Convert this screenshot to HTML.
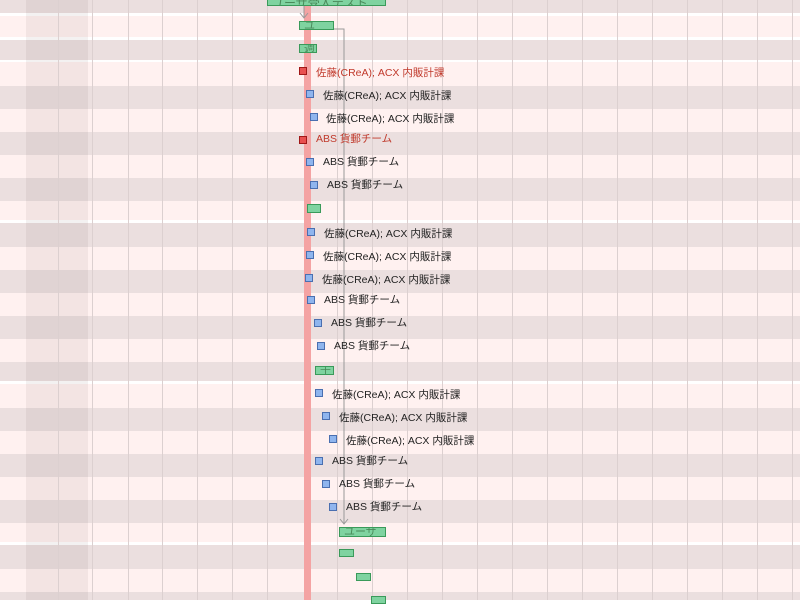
<!DOCTYPE html>
<html><head><meta charset="utf-8"><style>
body{margin:0;width:800px;height:600px;overflow:hidden;position:relative;background:#fff;font-family:"Liberation Sans","Noto Sans CJK JP",sans-serif}
.r{position:absolute;left:0;width:800px}
.d{background:#ebdfdf}.l{background:#fff1f0}
.v{position:absolute;top:0;height:600px;width:1px;background:#dcd0d0}
.sq{position:absolute;width:6px;height:6px;border:1px solid #4a6fb0;background:#8fb5ee}
.rd{border-color:#a01818;background:#e85050}
.t{position:absolute;font-size:10.5px;color:#222;line-height:13px;white-space:nowrap}
.red{color:#c0392b}
.b{position:absolute;background:#7fd3a0;border:1px solid #3a9a5a;box-sizing:border-box;font-size:11px;color:#4a8a5a;line-height:9px;overflow:hidden;white-space:nowrap}
</style></head><body>
<div class="r d" style="top:0;height:13px"></div>
<div class="r l" style="top:16px;height:21px"></div>
<div class="r d" style="top:40px;height:20px"></div>
<div class="r l" style="top:62px;height:24px"></div>
<div class="r d" style="top:86px;height:23px"></div>
<div class="r l" style="top:109px;height:23px"></div>
<div class="r d" style="top:132px;height:23px"></div>
<div class="r l" style="top:155px;height:23px"></div>
<div class="r d" style="top:178px;height:23px"></div>
<div class="r l" style="top:201px;height:19px"></div>
<div class="r d" style="top:223px;height:24px"></div>
<div class="r l" style="top:247px;height:23px"></div>
<div class="r d" style="top:270px;height:23px"></div>
<div class="r l" style="top:293px;height:23px"></div>
<div class="r d" style="top:316px;height:23px"></div>
<div class="r l" style="top:339px;height:23px"></div>
<div class="r d" style="top:362px;height:19px"></div>
<div class="r l" style="top:384px;height:24px"></div>
<div class="r d" style="top:408px;height:23px"></div>
<div class="r l" style="top:431px;height:23px"></div>
<div class="r d" style="top:454px;height:23px"></div>
<div class="r l" style="top:477px;height:23px"></div>
<div class="r d" style="top:500px;height:23px"></div>
<div class="r l" style="top:523px;height:19px"></div>
<div class="r d" style="top:545px;height:24px"></div>
<div class="r l" style="top:569px;height:23px"></div>
<div class="r d" style="top:592px;height:8px"></div>
<div style="position:absolute;left:26px;top:0;width:62px;height:600px;background:rgba(120,100,100,0.09)"></div>
<div class="v" style="left:58px"></div>
<div class="v" style="left:92px"></div><div class="v" style="left:128px"></div><div class="v" style="left:162px"></div><div class="v" style="left:197px"></div><div class="v" style="left:232px"></div><div class="v" style="left:267px"></div><div class="v" style="left:337px"></div><div class="v" style="left:372px"></div><div class="v" style="left:407px"></div><div class="v" style="left:442px"></div><div class="v" style="left:477px"></div><div class="v" style="left:512px"></div><div class="v" style="left:547px"></div><div class="v" style="left:582px"></div><div class="v" style="left:617px"></div><div class="v" style="left:652px"></div><div class="v" style="left:687px"></div><div class="v" style="left:722px"></div><div class="v" style="left:757px"></div><div class="v" style="left:792px"></div>
<div style="position:absolute;left:304px;top:0;width:7px;height:600px;background:#f4a3a3"></div>
<svg style="position:absolute;left:0;top:0" width="800" height="600">
<polyline points="304,6 304,18" fill="none" stroke="#999" stroke-width="1"/>
<polyline points="300,13 304,18 308,13" fill="none" stroke="#999"/>
<polyline points="334,29 344,29 344,524" fill="none" stroke="#999" stroke-width="1"/>
<polyline points="340,519 344,524 348,519" fill="none" stroke="#999"/>
</svg>
<div class="b" style="left:267px;top:-3px;width:119px;height:9px;padding-left:4px;line-height:11px;font-size:12px">ユーザ受入テスト</div>
<div class="b" style="left:299px;top:21px;width:35px;height:9px;padding-left:4px">ユ</div>
<div class="b" style="left:299px;top:44px;width:18px;height:9px;padding-left:4px">週</div>
<div class="b" style="left:307px;top:204px;width:14px;height:9px"></div>
<div class="b" style="left:315px;top:366px;width:19px;height:9px;padding-left:4px">千</div>
<div class="b" style="left:339px;top:527px;width:47px;height:10px;padding-left:4px">ユーザ</div>
<div class="b" style="left:339px;top:549px;width:15px;height:8px"></div>
<div class="b" style="left:356px;top:573px;width:15px;height:8px"></div>
<div class="b" style="left:371px;top:596px;width:15px;height:8px"></div>
<div class="sq rd" style="left:299px;top:67px"></div><div class="t red" style="left:316px;top:67px">佐藤(CReA); ACX 内販計課</div>
<div class="sq" style="left:306px;top:90px"></div><div class="t" style="left:323px;top:90px">佐藤(CReA); ACX 内販計課</div>
<div class="sq" style="left:310px;top:113px"></div><div class="t" style="left:326px;top:113px">佐藤(CReA); ACX 内販計課</div>
<div class="sq rd" style="left:299px;top:136px"></div><div class="t red" style="left:316px;top:133px">ABS 貨郵チーム</div>
<div class="sq" style="left:306px;top:158px"></div><div class="t" style="left:323px;top:156px">ABS 貨郵チーム</div>
<div class="sq" style="left:310px;top:181px"></div><div class="t" style="left:327px;top:179px">ABS 貨郵チーム</div>
<div class="sq" style="left:307px;top:228px"></div><div class="t" style="left:324px;top:228px">佐藤(CReA); ACX 内販計課</div>
<div class="sq" style="left:306px;top:251px"></div><div class="t" style="left:323px;top:251px">佐藤(CReA); ACX 内販計課</div>
<div class="sq" style="left:305px;top:274px"></div><div class="t" style="left:322px;top:274px">佐藤(CReA); ACX 内販計課</div>
<div class="sq" style="left:307px;top:296px"></div><div class="t" style="left:324px;top:294px">ABS 貨郵チーム</div>
<div class="sq" style="left:314px;top:319px"></div><div class="t" style="left:331px;top:317px">ABS 貨郵チーム</div>
<div class="sq" style="left:317px;top:342px"></div><div class="t" style="left:334px;top:340px">ABS 貨郵チーム</div>
<div class="sq" style="left:315px;top:389px"></div><div class="t" style="left:332px;top:389px">佐藤(CReA); ACX 内販計課</div>
<div class="sq" style="left:322px;top:412px"></div><div class="t" style="left:339px;top:412px">佐藤(CReA); ACX 内販計課</div>
<div class="sq" style="left:329px;top:435px"></div><div class="t" style="left:346px;top:435px">佐藤(CReA); ACX 内販計課</div>
<div class="sq" style="left:315px;top:457px"></div><div class="t" style="left:332px;top:455px">ABS 貨郵チーム</div>
<div class="sq" style="left:322px;top:480px"></div><div class="t" style="left:339px;top:478px">ABS 貨郵チーム</div>
<div class="sq" style="left:329px;top:503px"></div><div class="t" style="left:346px;top:501px">ABS 貨郵チーム</div>
</body></html>
